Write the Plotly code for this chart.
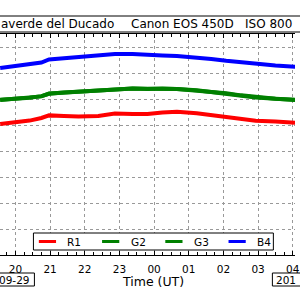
import plotly.graph_objects as go

# ---- data (hours UT; values >24 belong to next day) ----
times = [19.56, 19.98, 20.41, 20.75, 20.97, 21.40, 21.82, 22.39, 22.87, 23.38,
         23.81, 24.24, 24.66, 25.23, 25.65, 26.08, 26.51, 26.93, 27.50, 28.07]
r1 = [5.04, 5.10, 5.17, 5.27, 5.37, 5.35, 5.33, 5.35, 5.44, 5.42,
      5.42, 5.48, 5.51, 5.45, 5.38, 5.32, 5.23, 5.16, 5.13, 5.09]
g2 = [5.96, 6.00, 6.06, 6.10, 6.21, 6.25, 6.29, 6.32, 6.38, 6.40,
      6.38, 6.40, 6.38, 6.33, 6.28, 6.22, 6.14, 6.07, 6.01, 5.96]
g3 = [5.97, 6.00, 6.05, 6.11, 6.20, 6.25, 6.28, 6.33, 6.37, 6.40,
      6.39, 6.39, 6.38, 6.34, 6.27, 6.22, 6.15, 6.06, 6.01, 5.97]
b4 = [7.19, 7.27, 7.33, 7.40, 7.52, 7.56, 7.62, 7.69, 7.73, 7.73,
      7.69, 7.67, 7.65, 7.60, 7.54, 7.47, 7.41, 7.36, 7.29, 7.24]
names = ["R1", "G2", "G3", "B4"]
colors = ["#ff0000", "#008000", "#008000", "#0000ff"]
series = [r1, g2, g3, b4]
tick_vals = [20, 21, 22, 23, 24, 25, 26, 27, 28]
tick_text = ["20", "21", "22", "23", "00", "01", "02", "03", "04"]
title_parts = [("averde del Ducado", 118, "right"), ("Canon EOS 450D", 131, "left"),
               ("ISO 800", 247, "left")]
date_left = "09-29"
date_right = "201"

FONT = "DejaVu Sans"
W, H = 300, 300
TOP, BOT = 34, 255  # plot area pixel rows


def px(p):
    return p / W


def py(p):
    return (BOT - p) / (BOT - TOP)


fig = go.Figure()
for n, c, s in zip(names, colors, series):
    fig.add_trace(go.Scatter(x=times, y=s, mode="lines", name=n,
                             line=dict(color=c, width=4), showlegend=False))

shapes = []
annotations = []

# title box
shapes.append(dict(type="rect", xref="paper", yref="paper", x0=-0.05, x1=1.05,
                   y0=py(32), y1=py(16), line=dict(color="black", width=1),
                   fillcolor="white", layer="above"))
for txt, xpix, anc in title_parts:
    annotations.append(dict(text=txt, xref="paper", yref="paper", x=px(xpix),
                            y=py(24.5), xanchor=anc, yanchor="middle",
                            showarrow=False, font=dict(family=FONT, size=12, color="black")))

# legend box
shapes.append(dict(type="rect", xref="paper", yref="paper", x0=px(34), x1=px(278),
                   y0=py(250), y1=py(233), line=dict(color="black", width=1),
                   fillcolor="white", layer="above"))
for i, (n, c) in enumerate(zip(names, colors)):
    x0 = 39.5 + i * 64.3
    shapes.append(dict(type="line", xref="paper", yref="paper", x0=px(x0), x1=px(x0 + 17.5),
                       y0=py(241.5), y1=py(241.5), line=dict(color=c, width=3), layer="above"))
    annotations.append(dict(text=n, xref="paper", yref="paper", x=px(x0 + 27),
                            y=py(241.5), xanchor="left", yanchor="middle",
                            showarrow=False, font=dict(family=FONT, size=10.5, color="black")))

# date boxes
shapes.append(dict(type="rect", xref="paper", yref="paper", x0=-0.05, x1=px(35),
                   y0=py(286), y1=py(273), line=dict(color="black", width=1)))
annotations.append(dict(text=date_left, xref="paper", yref="paper", x=px(33), y=py(279.5),
                        xanchor="right", yanchor="middle", showarrow=False,
                        font=dict(family=FONT, size=10.5, color="black")))
shapes.append(dict(type="rect", xref="paper", yref="paper", x0=px(277), x1=1.05,
                   y0=py(286), y1=py(273), line=dict(color="black", width=1)))
annotations.append(dict(text=date_right, xref="paper", yref="paper", x=px(278.5), y=py(279.5),
                        xanchor="left", yanchor="middle", showarrow=False,
                        font=dict(family=FONT, size=10.5, color="black")))

# axis title
annotations.append(dict(text="Time (UT)", xref="paper", yref="paper", x=px(156), y=py(281.5),
                        xanchor="center", yanchor="middle", showarrow=False,
                        font=dict(family=FONT, size=12.5, color="black")))

fig.update_layout(
    width=W, height=H,
    margin=dict(l=0, r=0, t=TOP, b=H - BOT),
    paper_bgcolor="white", plot_bgcolor="white",
    showlegend=False,
    shapes=shapes, annotations=annotations,
    xaxis=dict(range=[19.555, 28.065], tickmode="array", tickvals=tick_vals,
               ticktext=tick_text, showline=True, linecolor="black", linewidth=1,
               mirror="ticks", ticks="inside", ticklen=4, tickcolor="black",
               showgrid=True, gridcolor="#999999", griddash="dot", gridwidth=1,
               zeroline=False, ticklabelstandoff=4, ticklabeloverflow="allow",
               tickfont=dict(family=FONT, size=10.5, color="black"),
               minor=dict(dtick=0.25, tick0=20, ticks="inside", ticklen=3,
                          tickcolor="black", showgrid=False)),
    yaxis=dict(range=[0, 8.5], dtick=1, tick0=0, showticklabels=False, ticks="",
               showline=False, zeroline=False, showgrid=True,
               gridcolor="#999999", griddash="dot", gridwidth=1),
)

fig.write_html("out.html")
